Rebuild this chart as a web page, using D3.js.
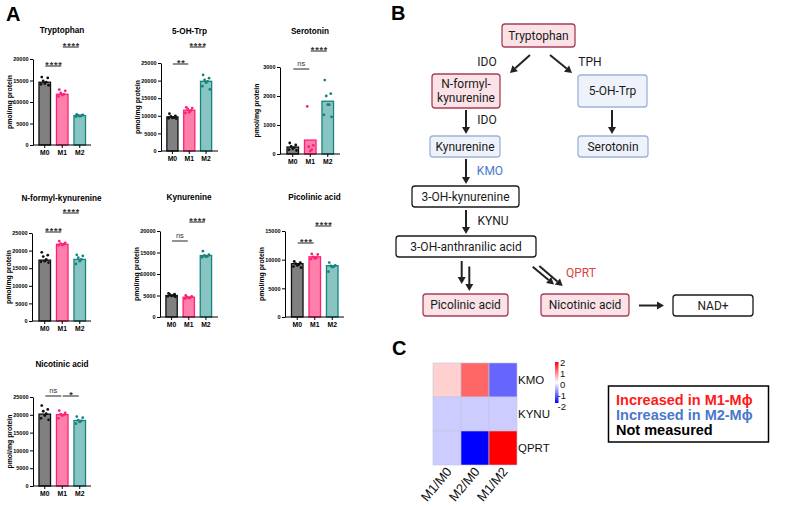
<!DOCTYPE html>
<html><head><meta charset="utf-8">
<script src="https://cdn.jsdelivr.net/npm/d3@7"></script>
<style>body{margin:0;background:#fff} svg{display:block}</style>
</head><body>
<svg id="chart" width="785" height="507"></svg>
<script>
// ---------------- DATA ----------------
const groups = ["M0", "M1", "M2"];
const yLabel = "pmol/mg protein";

const tryptophanMeans = [14600, 11800, 6850];
const tryptophanPoints = [[15800, 15600, 14900, 14600, 14300, 14100, 13900], [12900, 12600, 12100, 11800, 11600, 11300], [7100, 7000, 6900, 6800, 6700, 6600]];
const tryptophanSig = [{ a: 0, b: 1, label: "****" }, { a: 1, b: 2, label: "****" }];

const ohTrpMeans = [9700, 11600, 19800];
const ohTrpPoints = [[10600, 10000, 9800, 9500, 9400, 9300, 9200], [12400, 12200, 11900, 11500, 11000, 10800], [21600, 20700, 20200, 19800, 19400, 18400, 17500]];
const ohTrpSig = [{ a: 0, b: 1, label: "**" }, { a: 1, b: 2, label: "****" }];

const serotoninMeans = [240, 480, 1820];
const serotoninPoints = [[380, 310, 260, 220, 180, 150, 120], [1640, 300, 250, 150, 100], [2550, 2080, 2000, 1700, 1700, 1350, 1280]];
const serotoninSig = [{ a: 0, b: 1, label: "ns" }, { a: 1, b: 2, label: "****" }];

const nfkMeans = [17300, 21800, 17500];
const nfkPoints = [[19500, 18700, 18300, 17500, 17000, 16800, 16600], [22700, 22200, 22000, 21800, 21600, 21500], [18800, 18500, 18000, 17500, 17000, 16200]];
const nfkSig = [{ a: 0, b: 1, label: "****" }, { a: 1, b: 2, label: "****" }];

const kynurenineMeans = [5000, 4600, 14300];
const kynureninePoints = [[5500, 5300, 5200, 5000, 4900, 4800, 4700], [5000, 4800, 4600, 4500, 4400, 4300], [15300, 14500, 14300, 14100, 14000, 13900]];
const kynurenineSig = [{ a: 0, b: 1, label: "ns" }, { a: 1, b: 2, label: "****" }];

const picolinicMeans = [9300, 10500, 8950];
const picolinicPoints = [[9700, 9500, 9300, 9100, 9000, 8800, 8600], [11000, 10900, 10500, 10300, 10200, 10100], [9500, 9000, 8900, 8800, 8700, 7900]];
const picolinicSig = [{ a: 0, b: 1, label: "***" }, { a: 1, b: 2, label: "****" }];

const nicotinicMeans = [20200, 20050, 18400];
const nicotinicPoints = [[22600, 21500, 21000, 20300, 19800, 19000, 18600], [21200, 20500, 20200, 20000, 19800, 19000], [19500, 19200, 18500, 18300, 18000, 17500]];
const nicotinicSig = [{ a: 0, b: 1, label: "ns" }, { a: 1, b: 2, label: "*" }];

const ticks20000 = [0, 5000, 10000, 15000, 20000];
const ticks25000 = [0, 5000, 10000, 15000, 20000, 25000];
const ticks3000 = [0, 1000, 2000, 3000];
const ticks15000 = [0, 5000, 10000, 15000];

const panels = [
  { title: "Tryptophan", means: tryptophanMeans, points: tryptophanPoints, sig: tryptophanSig, ticks: ticks20000 },
  { title: "5-OH-Trp", means: ohTrpMeans, points: ohTrpPoints, sig: ohTrpSig, ticks: ticks25000 },
  { title: "Serotonin", means: serotoninMeans, points: serotoninPoints, sig: serotoninSig, ticks: ticks3000 },
  { title: "N-formyl-kynurenine", means: nfkMeans, points: nfkPoints, sig: nfkSig, ticks: ticks25000 },
  { title: "Kynurenine", means: kynurenineMeans, points: kynureninePoints, sig: kynurenineSig, ticks: ticks20000 },
  { title: "Picolinic acid", means: picolinicMeans, points: picolinicPoints, sig: picolinicSig, ticks: ticks15000 },
  { title: "Nicotinic acid", means: nicotinicMeans, points: nicotinicPoints, sig: nicotinicSig, ticks: ticks25000 }
];

// pathway (panel B)
const pathwayNodes = [
  { id: "trp", lines: ["Tryptophan"], kind: "M1" },
  { id: "nfk", lines: ["N-formyl-", "kynurenine"], kind: "M1" },
  { id: "oht", lines: ["5-OH-Trp"], kind: "M2" },
  { id: "kyn", lines: ["Kynurenine"], kind: "M2" },
  { id: "ser", lines: ["Serotonin"], kind: "M2" },
  { id: "ohk", lines: ["3-OH-kynurenine"], kind: "NA" },
  { id: "ohaa", lines: ["3-OH-anthranilic acid"], kind: "NA" },
  { id: "pic", lines: ["Picolinic acid"], kind: "M1" },
  { id: "nic", lines: ["Nicotinic acid"], kind: "M1" },
  { id: "nad", lines: ["NAD+"], kind: "NA" }
];
const enzymes = [
  { id: "ido1", text: "IDO", kind: "NA" },
  { id: "tph", text: "TPH", kind: "NA" },
  { id: "ido2", text: "IDO", kind: "NA" },
  { id: "kmo", text: "KMO", kind: "M2" },
  { id: "kynu", text: "KYNU", kind: "NA" },
  { id: "qprt", text: "QPRT", kind: "M1" }
];

// heatmap (panel C)
const heatRows = ["KMO", "KYNU", "QPRT"];
const heatCols = ["M1/M0", "M2/M0", "M1/M2"];
const heatKMO = [0.37, 1.2, -1.2];
const heatKYNU = [-0.4, -0.4, -0.4];
const heatQPRT = [-0.4, -2, 2];
const heatLegendTicks = [2, 1, 0, -1, -2];
const legendItems = [
  { text: "Increased in M1-M\u03D5", kind: "M1" },
  { text: "Increased in M2-M\u03D5", kind: "M2" },
  { text: "Not measured", kind: "NA" }
];

// ---------------- DRAW ----------------
const svg = d3.select("#chart");
const ARIAL = "'Liberation Sans', Arial, sans-serif";
const SANS = "Roboto, 'Liberation Sans', Arial, sans-serif";

const barFill = ["#808080", "#ff7fab", "#88c4c1"];
const barStroke = ["#111111", "#ff1f78", "#16847f"];
const dotColor = ["#111111", "#ff1f78", "#16847f"];

// panel letters
[["A", 6, 21], ["B", 391, 20], ["C", 392, 355]].forEach(([t, x, y]) => {
  svg.append("text").attr("x", x).attr("y", y).text(t)
    .attr("font-family", ARIAL).attr("font-weight", "bold").attr("font-size", 20).attr("fill", "#000");
});

// layout for each bar panel
const layout = [
  { ax: 33, base: 145, top: 59, band: [36, 88.5], end: 91, titleY: 33, sigY: [66, 47] },
  { ax: 161, base: 151, top: 63, band: [164, 214.5], end: 218, titleY: 34, sigY: [64, 47] },
  { ax: 280, base: 154, top: 67, band: [284, 336.5], end: 340, titleY: 34, sigY: [69, 51] },
  { ax: 32, base: 321, top: 233, band: [36, 88.5], end: 91, titleY: 201, sigY: [232, 213] },
  { ax: 160, base: 317, top: 231, band: [163, 214.5], end: 218, titleY: 200, sigY: [241, 222] },
  { ax: 285, base: 317, top: 231, band: [288.5, 341], end: 344, titleY: 200, sigY: [243, 226] },
  { ax: 33, base: 486, top: 397, band: [36, 88.5], end: 91, titleY: 367, sigY: [396, 396] }
];
const jitter = [-3, 3, -1.5, 1.5, 0, -3.8, 3.8];

panels.forEach((p, i) => {
  const L = layout[i];
  const g = svg.append("g");
  const y = d3.scaleLinear().domain([0, p.ticks[p.ticks.length - 1]]).range([L.base, L.top]);
  const x = d3.scaleBand().domain(groups).range(L.band).paddingInner(0.34).paddingOuter(0.17);

  // title
  g.append("text").attr("x", (L.ax + L.end) / 2).attr("y", L.titleY).attr("text-anchor", "middle")
    .attr("font-family", ARIAL).attr("font-weight", "bold").attr("font-size", 8.2).text(p.title);

  // bars
  g.selectAll("rect.bar").data(p.means).join("rect")
    .attr("x", (d, j) => x(groups[j]))
    .attr("width", x.bandwidth())
    .attr("y", d => y(d))
    .attr("height", d => L.base - y(d))
    .attr("fill", (d, j) => barFill[j])
    .attr("stroke", (d, j) => barStroke[j])
    .attr("stroke-width", 1.3);

  // dots
  p.points.forEach((pts, j) => {
    g.selectAll(null).data(pts).join("circle")
      .attr("cx", (d, k) => x(groups[j]) + x.bandwidth() / 2 + jitter[k % jitter.length])
      .attr("cy", d => y(d))
      .attr("r", 1.4)
      .attr("fill", dotColor[j]);
  });

  // y axis
  const ya = g.append("g").attr("transform", `translate(${L.ax},0)`)
    .call(d3.axisLeft(y).tickValues(p.ticks).tickSize(3).tickSizeOuter(0).tickPadding(1.5).tickFormat(d3.format("d")));
  ya.selectAll("text").attr("font-family", ARIAL).attr("font-weight", "bold").attr("font-size", 5.5);
  ya.selectAll("line,path").attr("stroke", "#000").attr("stroke-width", 1);

  // x axis
  const xa = g.append("g").attr("transform", `translate(0,${L.base})`)
    .call(d3.axisBottom(x).tickSize(3).tickSizeOuter(0).tickPadding(2));
  xa.select("path.domain").remove();
  xa.append("line").attr("x1", L.ax).attr("x2", L.end).attr("y1", 0).attr("y2", 0).attr("stroke", "#000").attr("stroke-width", 1);
  xa.selectAll("text").attr("font-family", ARIAL).attr("font-weight", "bold").attr("font-size", 6.8).attr("fill", "#000");
  xa.selectAll(".tick line").attr("stroke", "#000");

  // y label
  g.append("text")
    .attr("transform", `translate(${L.ax - 21},${(L.base + L.top) / 2}) rotate(-90)`)
    .attr("text-anchor", "middle").attr("font-family", ARIAL).attr("font-weight", "bold").attr("font-size", 6.9)
    .text(yLabel);

  // significance
  p.sig.forEach((s, k) => {
    const ly = L.sigY[k];
    const x1 = x(groups[s.a]) + x.bandwidth() / 2 + 0.5;
    const x2 = x(groups[s.b]) + x.bandwidth() / 2 - 1;
    g.append("line").attr("x1", x1).attr("x2", x2).attr("y1", ly).attr("y2", ly)
      .attr("stroke", "#222").attr("stroke-width", 1);
    const isNs = s.label === "ns";
    g.append("text").attr("x", (x1 + x2) / 2 + (isNs ? 0 : 0.7)).attr("y", isNs ? ly - 3 : ly + 1.5)
      .attr("text-anchor", "middle").attr("font-family", ARIAL)
      .attr("font-weight", isNs ? "normal" : "bold")
      .attr("font-size", isNs ? 7.5 : 9)
      .attr("letter-spacing", isNs ? 0 : 0.8)
      .attr("fill", "#333").text(s.label);
  });
});

// ---------------- PANEL B ----------------
const kindFill = { M1: "#fbe2e7", M2: "#eef3fb", NA: "#ffffff" };
const kindStroke = { M1: "#a83d58", M2: "#9eb2d8", NA: "#1a1a1a" };
const boxPos = {
  trp: [502, 24, 575, 47], nfk: [432, 74, 500, 108], oht: [578, 75, 647, 107],
  kyn: [430, 136, 500, 157], ser: [578, 136, 648, 157], ohk: [412, 186, 519, 207],
  ohaa: [396, 236, 536, 257], pic: [423, 294, 508, 316], nic: [541, 294, 629, 316], nad: [673, 295, 753, 316]
};
const gB = svg.append("g");
pathwayNodes.forEach(n => {
  const [x0, y0, x1, y1] = boxPos[n.id];
  gB.append("rect").attr("x", x0).attr("y", y0).attr("width", x1 - x0).attr("height", y1 - y0)
    .attr("rx", 3).attr("fill", kindFill[n.kind]).attr("stroke", kindStroke[n.kind]).attr("stroke-width", 1.3);
  const cy = (y0 + y1) / 2;
  const lh = 14;
  n.lines.forEach((t, k) => {
    gB.append("text").attr("x", (x0 + x1) / 2).attr("y", cy + (k - (n.lines.length - 1) / 2) * lh)
      .attr("dy", "0.35em").attr("text-anchor", "middle")
      .attr("font-family", SANS).attr("font-size", 12).attr("fill", "#1a1a1a").text(t);
  });
});
const enzPos = { ido1: [487, 62], tph: [590, 62], ido2: [487, 120], kmo: [490, 171], kynu: [493, 221], qprt: [581, 273] };
enzymes.forEach(e => {
  const [x, y] = enzPos[e.id];
  gB.append("text").attr("x", x).attr("y", y).attr("dy", "0.35em").attr("text-anchor", "middle")
    .attr("font-family", SANS).attr("font-size", 12)
    .attr("fill", e.kind === "M1" ? "#d9453c" : e.kind === "M2" ? "#4a78cc" : "#1a1a1a").text(e.text);
});
const arrows = [
  [530, 55, 510, 73], [550, 55, 572, 73],
  [466, 110, 466, 134], [612, 110, 612, 134],
  [466, 159, 466, 184], [466, 210, 466, 234],
  [461.7, 261, 461.7, 284], [469.3, 266.5, 469.3, 291],
  [532.7, 266.7, 554, 284.5], [539.3, 266, 562.7, 286],
  [639, 305.5, 664, 305.5]
];
const line = d3.line();
arrows.forEach(([x1, y1, x2, y2]) => {
  const ang = Math.atan2(y2 - y1, x2 - x1);
  const hl = 7, hw = 4;
  const bx = x2 - hl * Math.cos(ang), by = y2 - hl * Math.sin(ang);
  gB.append("path").attr("d", line([[x1, y1], [bx, by]])).attr("stroke", "#222").attr("stroke-width", 2).attr("fill", "none");
  const px = -Math.sin(ang) * hw, py = Math.cos(ang) * hw;
  gB.append("path").attr("d", line([[x2, y2], [bx + px, by + py], [bx - px, by - py]]) + "Z").attr("fill", "#222");
});

// ---------------- PANEL C ----------------
const gC = svg.append("g");
const heatValues = [heatKMO, heatKYNU, heatQPRT];
const color = d3.scaleLinear().domain([-2, 0, 2]).range(["#0000ff", "#ffffff", "#ff0000"]);
const hx = d3.scaleBand().domain(heatCols).range([433, 517]);
const hy = d3.scaleBand().domain(heatRows).range([363, 465]);
heatRows.forEach((r, i) => {
  heatCols.forEach((c, j) => {
    gC.append("rect").attr("x", hx(c)).attr("y", hy(r)).attr("width", hx.bandwidth()).attr("height", hy.bandwidth())
      .attr("fill", color(heatValues[i][j])).attr("stroke", "#c4c4dc").attr("stroke-width", 0.6);
  });
  gC.append("text").attr("x", 518).attr("y", hy(r) + hy.bandwidth() / 2).attr("dy", "0.35em")
    .attr("font-family", ARIAL).attr("font-size", 11.5).attr("fill", "#111").text(r);
});
heatCols.forEach(c => {
  gC.append("text").attr("transform", `translate(${hx(c) + hx.bandwidth() / 2 + 2},${469}) rotate(-50)`)
    .attr("text-anchor", "end").attr("dy", "0.35em").attr("font-family", ARIAL).attr("font-size", 13).attr("fill", "#111").text(c);
});
// colour legend
const lyBar = d3.scaleLinear().domain([2, -2]).range([362, 403]);
const lyLab = d3.scaleLinear().domain([2, -2]).range([363, 407]);
const defs = svg.append("defs");
const grad = defs.append("linearGradient").attr("id", "hg").attr("x1", 0).attr("x2", 0).attr("y1", 0).attr("y2", 1);
d3.range(0, 1.0001, 0.1).forEach(t => {
  grad.append("stop").attr("offset", t).attr("stop-color", color(2 - 4 * t));
});
gC.append("rect").attr("x", 555).attr("y", lyBar(2)).attr("width", 3.5).attr("height", lyBar(-2) - lyBar(2)).attr("fill", "url(#hg)");
heatLegendTicks.forEach(v => {
  gC.append("text").attr("x", v < 0 ? 557.5 : 560).attr("y", lyLab(v)).attr("dy", "0.35em")
    .attr("font-family", ARIAL).attr("font-size", 9.5).attr("fill", "#111").text(v);
});
// text legend
gC.append("rect").attr("x", 608.5).attr("y", 386).attr("width", 160).attr("height", 56)
  .attr("fill", "#fff").attr("stroke", "#000").attr("stroke-width", 1.5);
legendItems.forEach((d, i) => {
  gC.append("text").attr("x", 616).attr("y", 405 + i * 15)
    .attr("font-family", ARIAL).attr("font-weight", "bold").attr("font-size", 14.5)
    .attr("fill", d.kind === "M1" ? "#ff1a1a" : d.kind === "M2" ? "#4a78cc" : "#000").text(d.text);
});
</script>
</body></html>
